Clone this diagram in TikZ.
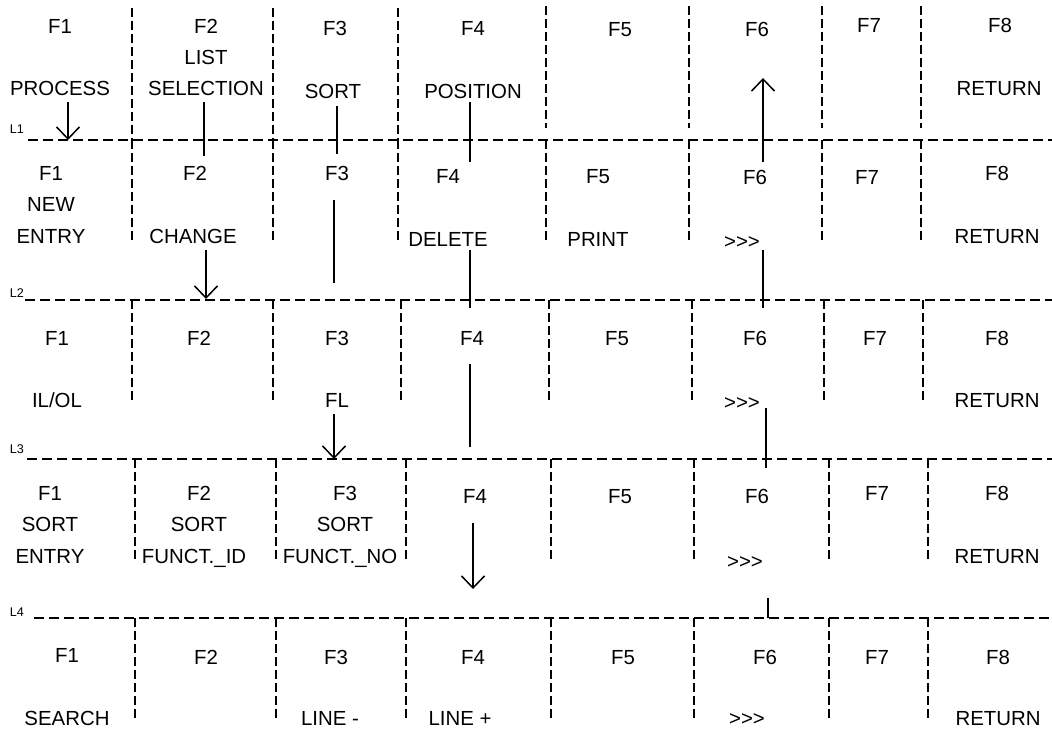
\documentclass[tikz,border=0pt]{standalone}
\usepackage{fontspec}
\setmainfont{Liberation Sans}
\usetikzlibrary{arrows.meta}

\newcommand{\more}{>\kern0pt>\kern0pt>}

\begin{document}
\begin{tikzpicture}[
    x=0.5pt, y=-0.5pt,
    >={Straight Barb[length=6pt,width=11.5pt]},
    font=\fontsize{10.2}{12}\selectfont,
    key/.style={
        inner sep=0pt,
        text height=7.3pt,
        text depth=0pt
    },
    level/.style={
        inner sep=0pt,
        font=\fontsize{6.3}{7}\selectfont
    },
    sepline/.style={
        dash pattern=on 4.5pt off 2pt,
        line width=0.8pt
    },
    levelline/.style={
        dash pattern=on 5pt off 2.5pt,
        line width=0.8pt
    },
    link/.style={
        line width=0.75pt
    },
    flow/.style={
        ->,
        line width=0.75pt
    }
]
\useasboundingbox (0,0) rectangle (1052,728);

% level lines
\node[level] (l1) at (17,129) {L1};
\node[level] (l2) at (17,293) {L2};
\node[level] (l3) at (17,449) {L3};
\node[level] (l4) at (17,612) {L4};
\draw[levelline] (28,140) -- (1052,140);
\draw[levelline] (25,300) -- (1052,300);
\draw[levelline] (27,459) -- (1052,459);
\draw[levelline] (34,618) -- (1052,618);

% key separators
\foreach \x in {132,273,398}
    \draw[sepline] (\x,8) -- (\x,140);
\foreach \x in {546,689,822,921}
    \draw[sepline] (\x,6) -- (\x,128);
\foreach \x in {132,273,398,546,689,822,921}
    \draw[sepline] (\x,140) -- (\x,240);
\foreach \x in {132,273,401,549,692,824,923}
    \draw[sepline] (\x,300) -- (\x,403);
\foreach \x in {135,276,406,551,694,829,928}
    \draw[sepline] (\x,459) -- (\x,563);
\foreach \x in {135,276,406,551,694,829,928}
    \draw[sepline] (\x,618) -- (\x,722);

% row 1
\node[key] (a1)  at (60,26)   {F1};
\node[key] (a1t) at (60,88)   {PROCESS};
\node[key] (a2)  at (206,26)  {F2};
\node[key] (a2l) at (206,57)  {LIST};
\node[key] (a2t) at (206,88)  {SELECTION};
\node[key] (a3)  at (335,28)  {F3};
\node[key] (a3t) at (333,91)  {SORT};
\node[key] (a4)  at (473,28)  {F4};
\node[key] (a4t) at (473,91)  {POSITION};
\node[key] (a5)  at (620,29)  {F5};
\node[key] (a6)  at (757,29)  {F6};
\node[key] (a7)  at (869,25)  {F7};
\node[key] (a8)  at (1000,25) {F8};
\node[key] (a8t) at (999,88)  {RETURN};

% row 2
\node[key] (b1)  at (51,173)  {F1};
\node[key] (b1n) at (51,204)  {NEW};
\node[key] (b1t) at (51,236)  {ENTRY};
\node[key] (b2)  at (195,173) {F2};
\node[key] (b2t) at (193,236) {CHANGE};
\node[key] (b3)  at (337,173) {F3};
\node[key] (b4)  at (448,176) {F4};
\node[key] (b4t) at (448,239) {DELETE};
\node[key] (b5)  at (598,176) {F5};
\node[key] (b5t) at (598,239) {PRINT};
\node[key] (b6)  at (755,177) {F6};
\node[key] (b6t) at (742,241) {\more};
\node[key] (b7)  at (867,177) {F7};
\node[key] (b8)  at (997,173) {F8};
\node[key] (b8t) at (997,236) {RETURN};

% row 3
\node[key] (c1)  at (57,338)  {F1};
\node[key] (c1t) at (57,400)  {IL/OL};
\node[key] (c2)  at (199,338) {F2};
\node[key] (c3)  at (337,338) {F3};
\node[key] (c3t) at (337,400) {FL};
\node[key] (c4)  at (472,338) {F4};
\node[key] (c5)  at (617,338) {F5};
\node[key] (c6)  at (755,338) {F6};
\node[key] (c6t) at (742,402) {\more};
\node[key] (c7)  at (875,338) {F7};
\node[key] (c8)  at (997,338) {F8};
\node[key] (c8t) at (997,400) {RETURN};

% row 4
\node[key] (d1)  at (50,493)  {F1};
\node[key] (d1s) at (50,524)  {SORT};
\node[key] (d1t) at (50,556)  {ENTRY};
\node[key] (d2)  at (199,493) {F2};
\node[key] (d2s) at (199,524) {SORT};
\node[key] (d2t) at (194,556) {FUNCT.\_ID};
\node[key] (d3)  at (345,493) {F3};
\node[key] (d3s) at (345,524) {SORT};
\node[key] (d3t) at (340,556) {FUNCT.\_NO};
\node[key] (d4)  at (475,496) {F4};
\node[key] (d5)  at (620,496) {F5};
\node[key] (d6)  at (757,496) {F6};
\node[key] (d6t) at (745,561) {\more};
\node[key] (d7)  at (877,493) {F7};
\node[key] (d8)  at (997,493) {F8};
\node[key] (d8t) at (997,556) {RETURN};

% row 5
\node[key] (e1)  at (67,655)  {F1};
\node[key] (e1t) at (67,718)  {SEARCH};
\node[key] (e2)  at (206,657) {F2};
\node[key] (e3)  at (336,657) {F3};
\node[key] (e3t) at (330,718) {LINE -};
\node[key] (e4)  at (473,657) {F4};
\node[key] (e4t) at (460,718) {LINE +};
\node[key] (e5)  at (623,657) {F5};
\node[key] (e6)  at (765,657) {F6};
\node[key] (e6t) at (747,718) {\more};
\node[key] (e7)  at (877,657) {F7};
\node[key] (e8)  at (998,657) {F8};
\node[key] (e8t) at (998,718) {RETURN};

% connector ends
\coordinate (s1) at (68,102);  \coordinate (t1) at (68,140);
\coordinate (s2) at (204,102); \coordinate (t2) at (204,156);
\coordinate (s3) at (337,106); \coordinate (t3) at (337,154);
\coordinate (s4) at (470,102); \coordinate (t4) at (470,162);
\coordinate (s5) at (763,162); \coordinate (t5) at (763,78);
\coordinate (s6) at (206,250); \coordinate (t6) at (206,299);
\coordinate (s7) at (334,200); \coordinate (t7) at (334,283);
\coordinate (s8) at (470,250); \coordinate (t8) at (470,308);
\coordinate (s9) at (763,250); \coordinate (t9) at (763,308);
\coordinate (s10) at (334,414); \coordinate (t10) at (334,459);
\coordinate (s11) at (470,364); \coordinate (t11) at (470,447);
\coordinate (s12) at (766,408); \coordinate (t12) at (766,468);
\coordinate (s13) at (473,523); \coordinate (t13) at (473,589);
\coordinate (s14) at (768,598); \coordinate (t14) at (768,618);

\draw[flow] (s1) -- (t1);
\draw[link] (s2) -- (t2);
\draw[link] (s3) -- (t3);
\draw[link] (s4) -- (t4);
\draw[flow] (s5) -- (t5);
\draw[flow] (s6) -- (t6);
\draw[link] (s7) -- (t7);
\draw[link] (s8) -- (t8);
\draw[link] (s9) -- (t9);
\draw[flow] (s10) -- (t10);
\draw[link] (s11) -- (t11);
\draw[link] (s12) -- (t12);
\draw[flow] (s13) -- (t13);
\draw[link] (s14) -- (t14);

\end{tikzpicture}
\end{document}
